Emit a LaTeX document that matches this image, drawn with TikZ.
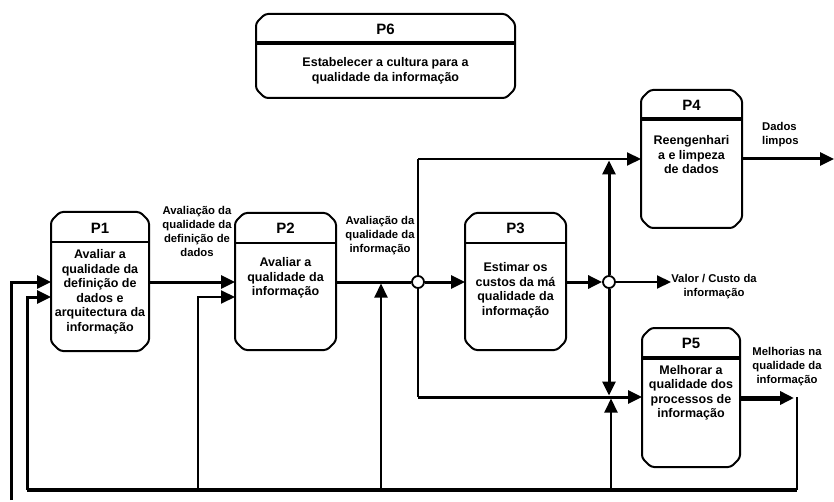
\documentclass[tikz,border=0pt]{standalone}
\usepackage{fontspec}
\setmainfont{Liberation Sans}
\usetikzlibrary{arrows.meta,calc}
\newcommand\chamferbox[1]{%
  \draw[boxline] ($(#1.north west)+(9,0)$) -- ($(#1.north east)+(-9,0)$) -- ($(#1.north east)+(0,9)$)
    -- ($(#1.south east)+(0,-9)$) -- ($(#1.south east)+(-9,0)$) -- ($(#1.south west)+(9,0)$)
    -- ($(#1.south west)+(0,-9)$) -- ($(#1.north west)+(0,9)$) -- cycle;}
\newcommand\divline[3]{%
  \draw[#3] ($(#1.north west)+(0,#2)$) -- ($(#1.north east)+(0,#2)$);}
\begin{document}
\begin{tikzpicture}[x=1pt,y=-1pt,
  >={Triangle[length=14pt,width=13pt]},
  pnode/.style={inner sep=0pt, outer sep=0pt},
  boxline/.style={line width=2pt, rounded corners=3pt, line join=round},
  divthin/.style={line width=2pt},
  divthick/.style={line width=4pt},
  ttl/.style={font=\fontsize{15}{17}\selectfont\bfseries},
  body/.style={font=\fontsize{12.5}{14.5}\selectfont\bfseries, align=center, inner sep=0pt},
  lbl/.style={font=\fontsize{11.3}{14}\selectfont\bfseries, align=center, inner sep=0pt},
  lw2/.style={line width=2pt},
  lw3/.style={line width=3pt},
  lw4/.style={line width=4pt},
  lw5/.style={line width=5pt},
  junc/.style={circle, draw, fill=white, line width=1.8pt, minimum size=12pt, inner sep=0pt}]
\fill[white] (0,0) rectangle (834,502);
\useasboundingbox (0,0) rectangle (834,502);

% boxes
\node[pnode, minimum width=98pt, minimum height=139pt] (p1) at (100,281.5) {};
\node[pnode, minimum width=101pt, minimum height=137pt] (p2) at (285.5,281.5) {};
\node[pnode, minimum width=101pt, minimum height=137pt] (p3) at (515.5,281.5) {};
\node[pnode, minimum width=101pt, minimum height=138pt] (p4) at (691.5,159) {};
\node[pnode, minimum width=98pt, minimum height=139pt] (p5) at (691,397.5) {};
\node[pnode, minimum width=259pt, minimum height=84pt] (p6) at (385.5,56) {};
\chamferbox{p1}\chamferbox{p2}\chamferbox{p3}\chamferbox{p4}\chamferbox{p5}\chamferbox{p6}
\divline{p1}{30}{divthin}
\divline{p2}{30}{divthin}
\divline{p3}{30}{divthin}
\divline{p4}{29}{divthick}
\divline{p5}{30}{divthick}
\divline{p6}{29}{divthick}

% titles
\node[ttl] (t1) at ($(p1.north)+(0,16)$) {P1};
\node[ttl] (t2) at ($(p2.north)+(0,15)$) {P2};
\node[ttl] (t3) at ($(p3.north)+(0,15)$) {P3};
\node[ttl] (t4) at ($(p4.north)+(0,15)$) {P4};
\node[ttl] (t5) at ($(p5.north)+(0,15)$) {P5};
\node[ttl] (t6) at ($(p6.north)+(0,15)$) {P6};

% bodies
\node[body] (b1) at (100,292) {Avaliar a\\qualidade da\\definição de\\dados e\\arquitectura da\\informação};
\node[body] (b2) at (285.5,278) {Avaliar a\\qualidade da\\informação};
\node[body] (b3) at (515.5,290.5) {Estimar os\\custos da má\\qualidade da\\informação};
\node[body] (b4) at (691.5,155) {Reengenhari\\a e limpeza\\de dados};
\node[body] (b5) at (691,393) {Melhorar a\\qualidade dos\\processos de\\informação};
\node[body] (b6) at (385.5,71) {Estabelecer a cultura para a\\qualidade da informação};

% labels
\node[lbl] (l12) at (197,231) {Avaliação da\\qualidade da\\definição de\\dados};
\node[lbl] (l23) at (380,235.5) {Avaliação da\\qualidade da\\informação};
\node[lbl, align=left, anchor=west] (l4) at (762,135) {Dados\\limpos};
\node[lbl] (lv) at (714,286.5) {Valor / Custo da\\informação};
\node[lbl] (l5) at (787,366.5) {Melhorias na\\qualidade da\\informação};

% junctions and coordinates
\node[junc] (c1) at (418,282) {};
\node[junc] (c2) at (609,282) {};
\coordinate (r1) at (0,282);
\coordinate (r2) at (0,297);
\coordinate (a11) at (11,500);
\coordinate (bl) at (27,490);
\coordinate (br) at (797,490);
\coordinate (f2) at (198,490);
\coordinate (f3) at (381,490);
\coordinate (m3) at (381,283.5);
\coordinate (k1) at (418,159);
\coordinate (k2) at (418,397);
\coordinate (u1) at (609,160.5);
\coordinate (d1) at (609,395.5);
\coordinate (f4) at (611,490);
\coordinate (d2) at (611,398.5);
\coordinate (v1) at (671,282);
\coordinate (o4) at (834,159);
\coordinate (o5) at (794,398);
\coordinate (q5) at (797,397);

% connectors
\draw[lw3,->] (p1.east |- r1) -- (p2.west |- r1);
\draw[lw3,->] (a11) |- (p1.west |- r1);
\draw[lw3,->] (bl) |- (p1.west |- r2);
\draw[lw2,->] (f2) |- (p2.west |- r2);
\draw[lw3] (p2.east |- r1) -- (c1);
\draw[lw3,->] (c1) -- (p3.west |- r1);
\draw[lw2,->] (f3) -- (m3);
\draw[lw2] (c1) -- (k1);
\draw[lw2,->] (k1) -- (p4.west |- k1);
\draw[lw2] (c1) -- (k2);
\draw[lw3,->] (k2) -- (p5.west |- k2);
\draw[lw3,->] (p3.east |- r1) -- (c2);
\draw[lw2,->] (c2) -- (v1);
\draw[lw3,->] (c2) -- (u1);
\draw[lw3,->] (c2) -- (d1);
\draw[lw2,->] (f4) -- (d2);
\draw[lw3,->] (p4.east |- k1) -- (o4);
\draw[lw5,->] (p5.east |- o5) -- (o5);
\draw[lw2] (q5) -- (br);
\draw[lw4] (bl) -- (br);
\end{tikzpicture}
\end{document}
